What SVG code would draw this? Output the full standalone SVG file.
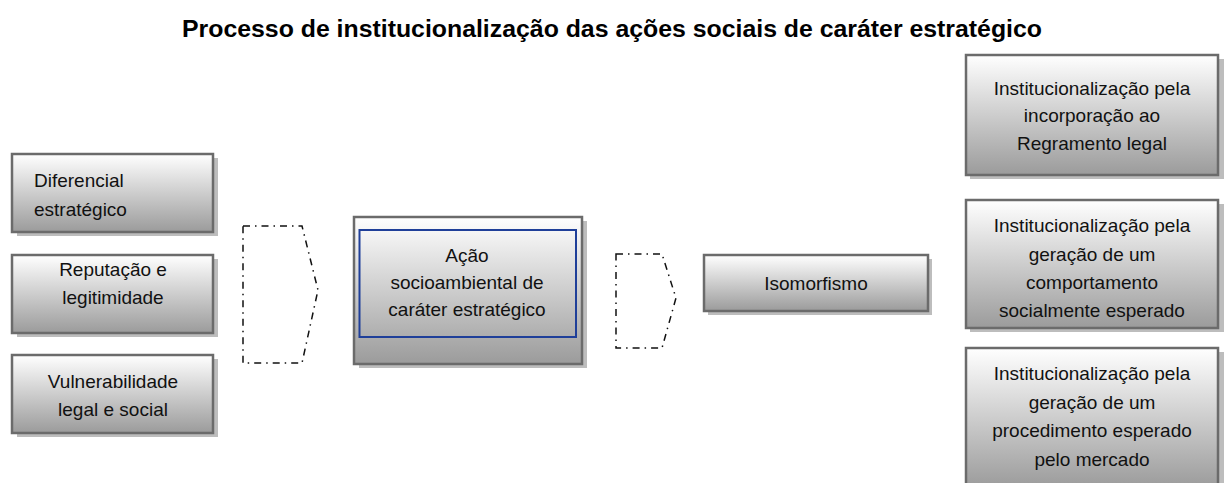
<svg xmlns="http://www.w3.org/2000/svg" width="1224" height="483" viewBox="0 0 1224 483">
<defs>
<linearGradient id="g" x1="0" y1="0" x2="0" y2="1">
<stop offset="0" stop-color="#ffffff"/>
<stop offset="1" stop-color="#9b9b9b"/>
</linearGradient>
<style>
.sh{fill:#bdbdbd}
.bx{fill:url(#g);stroke:#6b6b6b;stroke-width:2.5}
.t{font-family:"Liberation Sans",Arial,sans-serif;font-size:19px;fill:#111}
.c{text-anchor:middle}
.ch{fill:none;stroke:#111;stroke-width:1.5;stroke-dasharray:7 5 1.5 5}
</style>
</defs>
<rect width="1224" height="483" fill="#fff"/>
<text x="612" y="37" text-anchor="middle" font-family="'Liberation Sans',Arial,sans-serif" font-weight="bold" font-size="23" fill="#000" textLength="860" lengthAdjust="spacingAndGlyphs">Processo de institucionalização das ações sociais de caráter estratégico</text>

<g id="n-diferencial">
<rect class="sh" x="17" y="158" width="201" height="78"/>
<rect class="bx" x="12" y="154" width="201" height="78"/>
<text class="t" x="34" y="187">Diferencial</text>
<text class="t" x="34" y="216">estratégico</text>
</g>
<g id="n-reputacao">
<rect class="sh" x="17" y="259" width="201" height="78"/>
<rect class="bx" x="12" y="255" width="201" height="78"/>
<text class="t c" x="113" y="276">Reputação e</text>
<text class="t c" x="113" y="304">legitimidade</text>
</g>
<g id="n-vulnerabilidade">
<rect class="sh" x="17" y="359" width="201" height="78"/>
<rect class="bx" x="12" y="355" width="201" height="78"/>
<text class="t c" x="113" y="388">Vulnerabilidade</text>
<text class="t c" x="113" y="416">legal e social</text>
</g>

<g id="n-acao">
<rect class="sh" x="359" y="221" width="228" height="147"/>
<rect class="bx" x="354" y="217" width="228" height="147"/>
<rect x="359.5" y="230" width="216.5" height="107" fill="none" stroke="#1f3f99" stroke-width="2"/>
<text class="t c" x="467" y="262">Ação</text>
<text class="t c" x="467" y="289">socioambiental de</text>
<text class="t c" x="467" y="316">caráter estratégico</text>
</g>

<g id="n-isomorfismo">
<rect class="sh" x="708" y="259" width="224" height="56"/>
<rect class="bx" x="704" y="255" width="224" height="56"/>
<text class="t c" x="816" y="290">Isomorfismo</text>
</g>

<g id="n-regramento">
<rect class="sh" x="970" y="59" width="254" height="120"/>
<rect class="bx" x="966" y="55" width="252" height="120"/>
<text class="t c" x="1092" y="95">Institucionalização pela</text>
<text class="t c" x="1092" y="122">incorporação ao</text>
<text class="t c" x="1092" y="150">Regramento legal</text>
</g>
<g id="n-comportamento">
<rect class="sh" x="970" y="204" width="254" height="128"/>
<rect class="bx" x="966" y="200" width="252" height="128"/>
<text class="t c" x="1092" y="232">Institucionalização pela</text>
<text class="t c" x="1092" y="261">geração de um</text>
<text class="t c" x="1092" y="289">comportamento</text>
<text class="t c" x="1092" y="317">socialmente esperado</text>
</g>
<g id="n-procedimento">
<rect class="sh" x="970" y="352" width="254" height="140"/>
<rect class="bx" x="966" y="348" width="252" height="140"/>
<text class="t c" x="1092" y="380">Institucionalização pela</text>
<text class="t c" x="1092" y="409">geração de um</text>
<text class="t c" x="1092" y="437">procedimento esperado</text>
<text class="t c" x="1092" y="466">pelo mercado</text>
</g>

<g id="connectors">
<path class="ch" d="M243 226 L302 226 L318 290 L302 363 L243 363 Z"/>
<path class="ch" d="M616 254 L662 254 L676 298 L662 348 L616 348 Z"/>
</g>
</svg>
